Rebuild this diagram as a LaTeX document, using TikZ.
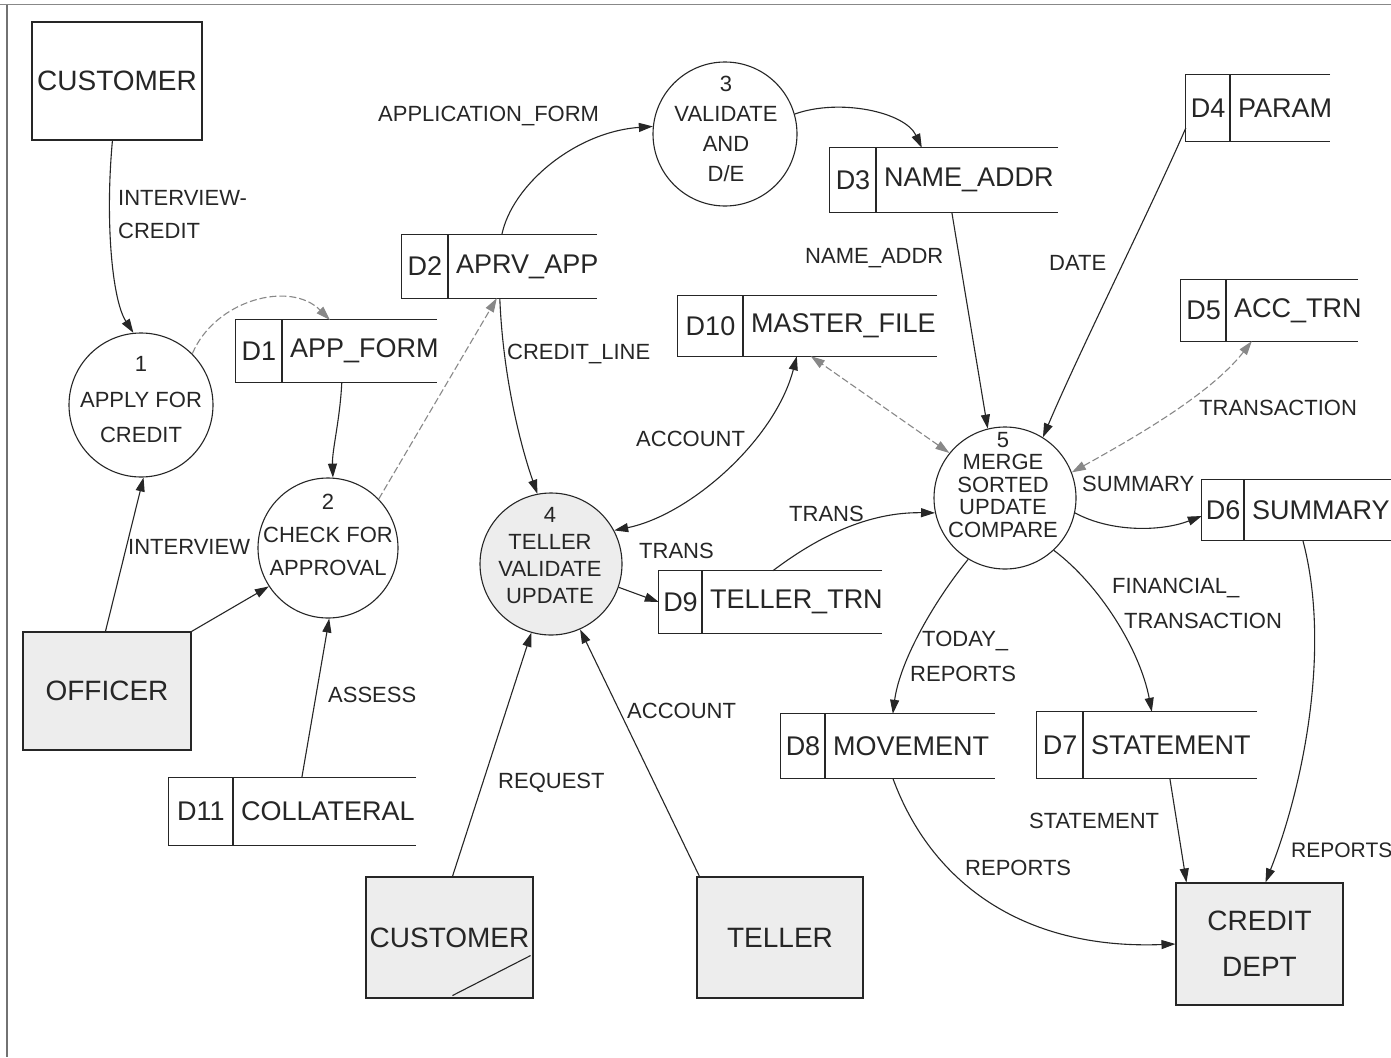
\documentclass[tikz,border=0pt]{standalone}
\usepackage{fontspec}
\setmainfont{Liberation Sans}
\usetikzlibrary{arrows.meta,fit}
\definecolor{ink}{gray}{0.15}
\definecolor{shade}{gray}{0.93}

\tikzset{
  >={Triangle[length=14pt,width=9pt]},
  flow/.style={draw=ink, line width=1.1pt, ->},
  twoway/.style={draw=ink, line width=1.1pt, <->},
  faint/.style={draw=ink!55, dash pattern=on 7pt off 3pt},
  entity/.style={draw=ink, line width=1.1pt, inner sep=0pt, text=ink, align=center,
                 font=\fontsize{28}{46}\selectfont},
  shaded/.style={fill=shade},
  proc/.style={circle, draw=ink, line width=1.1pt, inner sep=0pt},
  ptext/.style={text=ink, align=center, inner sep=0pt, font=\fontsize{22}{#1}\selectfont},
  ptext/.default=26,
  lbl/.style={text=ink, anchor=west, inner sep=0pt, font=\fontsize{22}{26}\selectfont},
  storeline/.style={draw=ink, line width=1.1pt},
  storetext/.style={text=ink, inner sep=0pt, font=\fontsize{27}{30}\selectfont},
}

% data store: name, left, top, divider, right, bottom, id, title
\newcommand\dstore[8]{%
  \coordinate (#1-a) at (#2,#3);
  \coordinate (#1-b) at (#5,#6);
  \node[fit=(#1-a)(#1-b), inner sep=0pt] (#1) {};
  \draw[storeline] (#1.north east) -- (#1.north west) -- (#1.south west) -- (#1.south east);
  \draw[storeline] (#4,#3) -- (#4,#6);
  \node[storetext] (#1-id) at ({(#2+#4)/2},{(#3+#6)/2}) {#7};
  \node[storetext, anchor=west] (#1-name) at ({#4+8},{(#3+#6)/2}) {#8};
}

\begin{document}
\begin{tikzpicture}[x=1pt,y=-1pt]
\useasboundingbox (0,0) rectangle (1391,1057);
\fill[white] (0,0) rectangle (1391,1057);

% page frame
\draw[ink!55, line width=1pt] (0,5) -- (1391,5);
\draw[ink!65, line width=1.5pt] (7,5) -- (7,1057);

% external entities
\node[entity, minimum width=170pt, minimum height=118pt] (cust1) at (117,81) {CUSTOMER};
\node[entity, shaded, minimum width=168pt, minimum height=118pt] (off) at (107,691) {OFFICER};
\node[entity, shaded, minimum width=167pt, minimum height=121pt] (cust2) at (449.5,937.5) {CUSTOMER};
\node[entity, shaded, minimum width=166pt, minimum height=121pt] (teller) at (780,937.5) {TELLER};
\node[entity, shaded, minimum width=167pt, minimum height=122pt] (cd) at (1259.5,944) {CREDIT\\DEPT};
\draw[ink, line width=1.1pt] ([xshift=87pt,yshift=3pt]cust2.south west) -- ([xshift=-3pt,yshift=43pt]cust2.south east);

% processes
\node[proc, minimum size=144pt] (p1) at (141,405) {};
\node[ptext=35.5] (p1t) at (141,400) {1\\APPLY FOR\\CREDIT};
\node[proc, minimum size=140pt] (p2) at (328,548) {};
\node[ptext=33] (p2t) at (328,535) {2\\CHECK FOR\\APPROVAL};
\node[proc, minimum size=144pt] (p3) at (725,134) {};
\node[ptext=30] (p3t) at (726,129) {3\\VALIDATE\\AND\\D/E};
\node[proc, shaded, minimum size=142pt] (p4) at (551,564) {};
\node[ptext=27] (p4t) at (550,556) {4\\TELLER\\VALIDATE\\UPDATE};
\node[proc, minimum size=142pt] (p5) at (1005,498) {};
\node[ptext=22.5] (p5t) at (1003,485) {5\\MERGE\\SORTED\\UPDATE\\COMPARE};

% data stores
\dstore{d1}{236}{320}{282}{437}{382}{D1}{APP\_FORM}
\dstore{d2}{402}{235}{448}{597}{298}{D2}{APRV\_APP}
\dstore{d3}{830}{148}{876}{1058}{212}{D3}{NAME\_ADDR}
\dstore{d4}{1186}{75}{1230}{1330}{141}{D4}{PARAM}
\dstore{d5}{1181}{280}{1226}{1358}{341}{D5}{ACC\_TRN}
\dstore{d10}{678}{296}{743}{937}{356}{D10}{MASTER\_FILE}
\dstore{d6}{1202}{480}{1244}{1391}{540}{D6}{SUMMARY}
\dstore{d9}{659}{571}{702}{882}{633}{D9}{TELLER\_TRN}
\dstore{d8}{781}{714}{825}{995}{778}{D8}{MOVEMENT}
\dstore{d7}{1037}{712}{1083}{1257}{778}{D7}{STATEMENT}
\dstore{d11}{169}{778}{233}{416}{845}{D11}{COLLATERAL}

% flows
\draw[flow] ([xshift=81pt]cust1.south west) .. controls (105,220) and (112,300) .. (p1.96);
\draw[flow,faint] (p1.45) .. controls (215,300) and (290,280) .. ([xshift=94pt]d1.north west);
\draw[flow] ([xshift=106pt]d1.south west) .. controls (340,420) and (332,450) .. (p2.86);
\draw[flow,faint] (p2.44) -- ([xshift=95pt]d2.south west);
\draw[flow] ([xshift=100pt]d2.north west) .. controls (512,185) and (575,132) .. (p3.174);
\draw[flow] (p3.16) .. controls (840,98) and (905,112) .. ([xshift=92pt]d3.north west);
\draw[flow] ([xshift=98pt]d2.south west) .. controls (503,380) and (522,450) .. (p4.101);
\draw[twoway] (p4.28) .. controls (690,515) and (775,440) .. ([xshift=119pt]d10.south west);
\draw[twoway,faint] (p5.141) -- ([xshift=133pt]d10.south west);
\draw[flow] ([xshift=122pt]d3.south west) -- (p5.104);
\draw[flow] ([yshift=-20pt]d4.west) .. controls (1150,210) and (1080,350) .. (p5.58);
\draw[twoway,faint] (p5.21) .. controls (1130,440) and (1210,395) .. ([xshift=71pt]d5.south west);
\draw[flow] (p5.348) .. controls (1110,532) and (1160,532) .. ([yshift=-6pt]d6.west);
\draw[flow] ([xshift=114pt]d9.north west) .. controls (820,535) and (870,512) .. (p5.192);
\draw[flow] (p4.341) -- (d9.west);
\draw[flow] (p5.239) .. controls (935,600) and (900,660) .. ([xshift=112pt]d8.north west);
\draw[flow] (p5.313) .. controls (1100,585) and (1140,650) .. ([xshift=115pt]d7.north west);
\draw[flow] ([xshift=133pt]d7.south west) -- ([xshift=11pt]cd.north west);
\draw[flow] ([xshift=101pt]d6.south west) .. controls (1332,650) and (1302,790) .. ([xshift=90pt]cd.north west);
\draw[flow] ([xshift=112pt]d8.south west) .. controls (930,880) and (1020,950) .. (cd.west);
\draw[flow] ([xshift=83pt]off.north west) -- (p1.272);
\draw[flow] (off.north east) -- (p2.213);
\draw[flow] ([xshift=133pt]d11.north west) -- (p2.271);
\draw[flow] ([xshift=87pt]cust2.north west) -- (p4.254);
\draw[flow] ([xshift=3pt]teller.north west) -- (p4.294);

% flow labels
\node[lbl] (l-appform) at (378,116) {APPLICATION\_FORM};
\node[lbl] (l-intcr1) at (118,198) {INTERVIEW-};
\node[lbl] (l-intcr2) at (118,231) {CREDIT};
\node[lbl] (l-nameaddr) at (805,258) {NAME\_ADDR};
\node[lbl] (l-date) at (1049,263) {DATE};
\node[lbl] (l-creditline) at (507,354) {CREDIT\_LINE};
\node[lbl] (l-account1) at (636,439) {ACCOUNT};
\node[lbl] (l-transaction) at (1199,408) {TRANSACTION};
\node[lbl] (l-summary) at (1082,484) {SUMMARY};
\node[lbl] (l-trans1) at (789,514) {TRANS};
\node[lbl] (l-trans2) at (639,551) {TRANS};
\node[lbl] (l-interview) at (128,547) {INTERVIEW};
\node[lbl] (l-fin1) at (1112,588) {FINANCIAL\_};
\node[lbl] (l-fin2) at (1124,621) {TRANSACTION};
\node[lbl] (l-today1) at (922,641) {TODAY\_};
\node[lbl] (l-today2) at (910,674) {REPORTS};
\node[lbl] (l-assess) at (328,695) {ASSESS};
\node[lbl] (l-account2) at (627,711) {ACCOUNT};
\node[lbl] (l-request) at (498,783) {REQUEST};
\node[lbl] (l-statement) at (1029,821) {STATEMENT};
\node[lbl] (l-reports1) at (965,868) {REPORTS};
\node[lbl, font=\fontsize{21}{25}\selectfont] (l-reports2) at (1291,850) {REPORTS};
\end{tikzpicture}
\end{document}
